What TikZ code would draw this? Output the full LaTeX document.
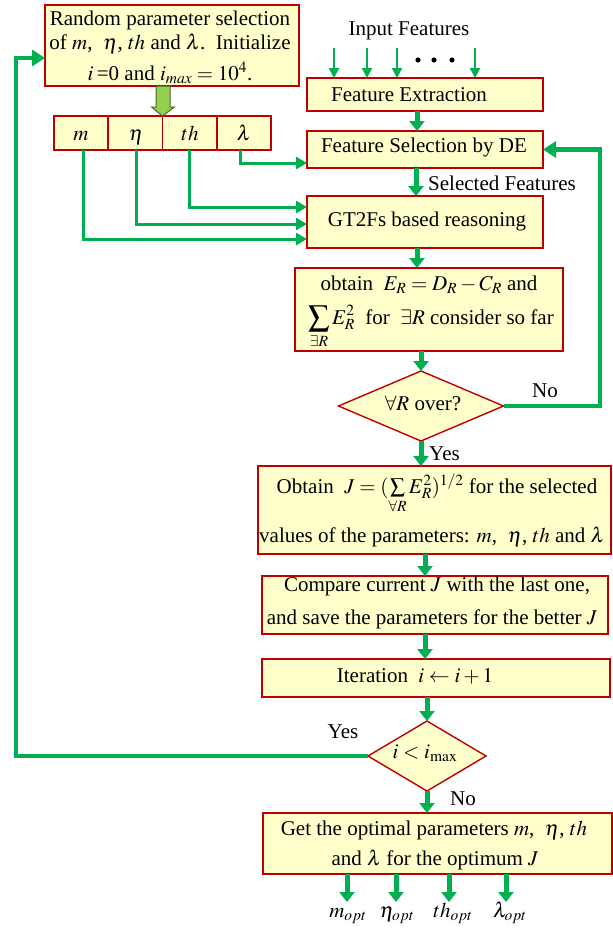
\documentclass[tikz,border=0pt]{standalone}
\usepackage{mathptmx}
\usepackage[no-math]{fontspec}
\setmainfont{Liberation Serif}
\usetikzlibrary{arrows.meta,shapes.geometric,calc}
\definecolor{gr}{RGB}{0,176,80}
\definecolor{bred}{RGB}{192,0,0}
\definecolor{byel}{RGB}{255,255,204}
\definecolor{olf}{RGB}{146,208,80}
\definecolor{old}{RGB}{79,98,40}
\begin{document}
\begin{tikzpicture}[x=1pt,y=-1pt,
  every node/.style={font=\fontsize{21}{27}\selectfont},
  box/.style={draw=bred, fill=byel, line width=1.6pt, inner sep=0pt, outer sep=0pt},
  dia/.style={diamond, draw=bred, fill=byel, line width=1.4pt, inner sep=0pt, outer sep=0pt},
  txt/.style={inner sep=0pt, anchor=base},
  thinarr/.style={draw=gr, line width=2pt, -{Triangle[width=10pt,length=10pt]}},
  parr/.style={draw=gr, line width=3pt, -{Triangle[width=12pt,length=11pt]}},
  thickarr/.style={draw=gr, line width=5pt, -{Triangle[width=15pt,length=10pt]}},
  looparr/.style={draw=gr, line width=4.5pt, -{Triangle[width=16pt,length=13pt]}}
]
\useasboundingbox (0,0) rectangle (613,930);

% ---- boxes ----
\node[box, minimum width=254pt, minimum height=81pt] (rand) at (172,45.5) {};
\node[box, minimum width=54.25pt, minimum height=34pt] (cm) at (81.1,133) {};
\node[box, minimum width=54.25pt, minimum height=34pt] (ce) at (135.4,133) {};
\node[box, minimum width=54.25pt, minimum height=34pt] (ct) at (189.6,133) {};
\node[box, minimum width=54.25pt, minimum height=34pt] (cl) at (243.9,133) {};
\node[box, minimum width=236pt, minimum height=33pt] (fe) at (425,94.5) {};
\node[box, minimum width=236pt, minimum height=37pt] (fs) at (425,149.5) {};
\node[box, minimum width=236pt, minimum height=52pt] (gt) at (425,222) {};
\node[box, minimum width=268pt, minimum height=83pt] (obe) at (429,309.5) {};
\node[dia, minimum width=165pt, minimum height=70pt] (d1) at (421,406) {};
\node[box, minimum width=353pt, minimum height=88pt] (obj) at (434.5,510) {};
\node[box, minimum width=346pt, minimum height=58pt] (cmp) at (435,605) {};
\node[box, minimum width=348pt, minimum height=38pt] (it) at (436,678) {};
\node[dia, minimum width=118pt, minimum height=70pt] (d2) at (427,756) {};
\node[box, minimum width=349pt, minimum height=61pt] (fin) at (437.5,843.5) {};

% ---- texts ----
\node[txt] (r1) at (170,25) {Random parameter selection};
\node[txt] (r2) at (170,49) {of $m$,\ \ $\eta$, $th$ and $\lambda$.\ \ Initialize};
\node[txt] (r3) at (170,80) {$i$\,=0 and $i_{max} = 10^4$.};
\node[txt] (tm) at (81,140) {$m$};
\node[txt] (te) at (136,140) {$\eta$};
\node[txt] (tt) at (190,140) {$th$};
\node[txt] (tl) at (244,140) {$\lambda$};
\node[txt] (inp) at (409,35) {Input Features};
\node[txt] (fet) at (409,101) {Feature Extraction};
\node[txt] (fst) at (424,152) {Feature Selection by DE};
\node[txt, anchor=base west] (self) at (428,190) {Selected Features};
\node[txt] (gtt) at (427,226) {GT2Fs based reasoning};
\node[txt] (e1) at (429,290) {obtain\ \ $E_R = D_R - C_R$ and};
\node[txt] (e2) at (431,324) {$\displaystyle\sum_{\exists R} E_R^2$\ \ for\ \ $\exists R$ consider so far};
\node[txt] (d1t) at (423,410) {$\forall R$ over?};
\node[txt] (no1) at (545,397) {No};
\node[txt, anchor=base west] (yes1) at (429,460) {Yes};
\node[txt] (j1) at (437,493) {Obtain\ \ $J = (\sum\limits_{\forall R} E_R^2)^{1/2}$ for the selected};
\node[txt] (j2) at (432,542) {values of the parameters: $m$,\ \ $\eta$, $th$ and $\lambda$};
\node[txt] (c1) at (437,591) {Compare current $J$ with the last one,};
\node[txt] (c2) at (432,624) {and save the parameters for the better $J$};
\node[txt] (itt) at (415,682) {Iteration\ \ $i \leftarrow i+1$};
\node[txt] (yes2) at (343,738) {Yes};
\node[txt] (d2t) at (425,758) {$i < i_{\max}$};
\node[txt] (no2) at (463,805) {No};
\node[txt] (f1) at (434,835) {Get the optimal parameters $m$,\ \ $\eta$, $th$};
\node[txt] (f2) at (435,865) {and $\lambda$ for the optimum $J$};
\node[txt] (mo) at (348,917) {$m_{opt}$};
\node[txt] (eo) at (397,917) {$\eta_{opt}$};
\node[txt] (to) at (453,917) {$th_{opt}$};
\node[txt] (lo) at (510,917) {$\lambda_{opt}$};

% ---- input arrows ----
\coordinate (in1) at (334,48);
\coordinate (in2) at (367,48);
\coordinate (in3) at (397,48);
\coordinate (in4) at (475,48);
\foreach \c in {in1,in2,in3,in4} \draw[thinarr] (\c) -- (\c |- fe.north);
\foreach \x in {418,434,452} \fill (\x,60) circle (2.6pt);

% ---- big olive arrow ----
\draw[fill=olf, draw=old, line width=1pt]
  (rand.south -| 156,0) -- (156,107) -- (151.5,107) -- (ce.north east) -- (174.5,107) -- (170,107) -- (rand.south -| 170,0) -- cycle;

% ---- parameter lines ----
\draw[parr] (83,0 |- cm.south) |- (gt.west |- 0,239);
\draw[parr] (136,0 |- ce.south) |- (gt.west |- 0,224);
\draw[parr] (189,0 |- ct.south) |- (gt.west |- 0,207);
\draw[parr] (240,0 |- cl.south) |- (fs.west |- 0,163);

% ---- main flow ----
\draw[thickarr] (417,0 |- fe.south) -- (417,0 |- fs.north);
\draw[thickarr] (416,0 |- fs.south) -- (416,0 |- gt.north);
\draw[thickarr] (417,0 |- gt.south) -- (417,0 |- obe.north);
\draw[thickarr] (421,0 |- obe.south) -- (d1.north);
\draw[thickarr] (d1.south) -- (d1.south |- obj.north);
\draw[thickarr] (425,0 |- obj.south) -- (425,0 |- cmp.north);
\draw[thickarr] (425,0 |- cmp.south) -- (425,0 |- it.north);
\draw[thickarr] (427,0 |- it.south) -- (d2.north);
\draw[thickarr] (d2.south) -- (d2.south |- fin.north);

% ---- loops ----
\draw[looparr] (d1.east) -- (600,0 |- d1.east) |- (fs.east);
\draw[looparr] (d2.west) -| (16,58) -- (rand.west |- 0,58);

% ---- outputs ----
\coordinate (mo-e) at (347,902);
\coordinate (eo-e) at (396,902);
\coordinate (to-e) at (449,902);
\coordinate (lo-e) at (506,902);
\draw[thickarr] (mo-e |- fin.south) -- (mo-e);
\draw[thickarr] (eo-e |- fin.south) -- (eo-e);
\draw[thickarr] (to-e |- fin.south) -- (to-e);
\draw[thickarr] (lo-e |- fin.south) -- (lo-e);
\end{tikzpicture}
\end{document}
